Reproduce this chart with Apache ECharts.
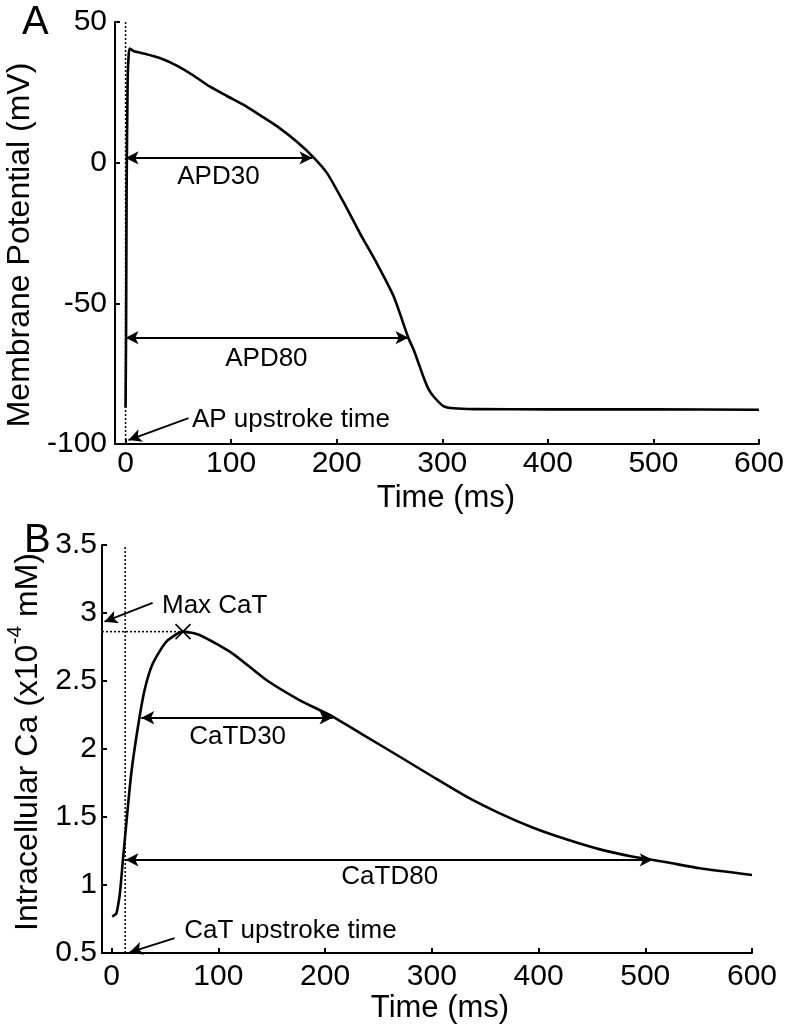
<!DOCTYPE html>
<html><head><meta charset="utf-8">
<script src="https://cdn.jsdelivr.net/npm/echarts@6/dist/echarts.min.js"></script>
<style>html,body{margin:0;padding:0;background:#fff;}#c{width:788px;height:1032px;}</style>
</head><body><div id="c"></div>
<script>
// ---- Panel A: action potential ----
const apTime    = [0, 0.5, 1, 2, 3, 4, 8, 16, 33, 49, 65, 80, 96, 112, 128, 144, 162, 178, 191, 207, 222, 238, 254, 268, 273, 282, 287, 292, 301, 311, 330, 400, 500, 600];
const apVoltage = [-87, -60, -10, 30, 38.5, 40.6, 39.6, 38.9, 37.1, 34.4, 30.8, 27, 23.7, 20.5, 16.7, 12.8, 7.5, 1.9, -3.8, -14.4, -25.1, -35.8, -47.6, -62.4, -66.6, -76, -80.5, -83.2, -86.5, -87.3, -87.6, -87.7, -87.7, -87.8];
const timeTicks = [0, 100, 200, 300, 400, 500, 600];
const apUpstroke = [[0, -100], [0, 50]];
const apd30Line = [[0, 1.7], [177, 1.7]];
const apd80Line = [[0, -62.2], [268, -62.2]];
const apUpArrow = [[59.6, -90.8], [2.8, -98.6]];
const apLabels = [[88, -5.1, 'APD30'], [133.4, -69.8, 'APD80'], [156.6, -91.5, 'AP upstroke time']];

// ---- Panel B: calcium transient ----
const caTime = [0.6, 4.4, 6.9, 8.1, 10.6, 13.8, 18.4, 24.7, 30.9, 38.7, 51.3, 66.9, 82.5, 113.7, 145, 176, 207.5, 238.8, 270, 301, 332.5, 363.7, 395, 426, 457.5, 488.7, 520, 551, 600];
const caConc = [0.767, 0.79, 0.89, 0.963, 1.184, 1.454, 1.82, 2.164, 2.434, 2.63, 2.79, 2.863, 2.838, 2.70, 2.507, 2.36, 2.237, 2.09, 1.943, 1.796, 1.65, 1.527, 1.421, 1.336, 1.262, 1.208, 1.167, 1.123, 1.074];
const caUpstroke = [[12.7, 0.5], [12.7, 3.5]];
const caMaxPoint = [[66.9, 2.863]];
const caMaxLine = [[-9, 2.863], [66.9, 2.863]];
const catd30Line = [[27.8, 2.23], [207, 2.23]];
const catd80Line = [[13, 1.185], [507, 1.185]];
const caMaxArrow = [[38.4, 3.074], [-6.6, 2.936]];
const caUpArrow = [[59, 0.61], [16.9, 0.505]];
const caLabels = [[96.6, 3.055, 'Max CaT'], [118.1, 2.092, 'CaTD30'], [260.6, 1.0625, 'CaTD80'], [167.5, 0.662, 'CaT upstroke time']];

const FONT = "'Liberation Sans', Arial, Helvetica, sans-serif";
const zip = (a, b) => a.map((v, i) => [v, b[i]]);

function xAxisCfg(gi, min, margin, gap, pad) {
  return {
    type: 'value', gridIndex: gi, min: min, max: 600,
    name: 'Time (ms)', nameLocation: 'middle', nameGap: gap,
    nameTextStyle: { fontSize: 31, fontFamily: FONT, color: '#000', padding: [0, 0, 0, pad] },
    axisLine: { onZero: false, lineStyle: { color: '#000', width: 2 } },
    axisTick: { inside: true, length: 5, lineStyle: { color: '#000', width: 2 }, customValues: timeTicks },
    axisLabel: { fontSize: 30, fontFamily: FONT, color: '#000', margin: margin, customValues: timeTicks },
    splitLine: { show: false }
  };
}
function arrowPair(seg, both) {
  return [
    { coord: seg[0], symbol: both ? 'arrow' : 'none' },
    { coord: seg[1], symbol: 'arrow' }
  ];
}
const markLineBase = {
  silent: true, animation: false,
  symbolSize: [10, 13],
  label: { show: false },
  lineStyle: { color: '#000', width: 1.8, type: 'solid', opacity: 1 },
  itemStyle: { color: '#000' },
  emphasis: { disabled: true }
};
function labelSeries(xi, yi, data) {
  return {
    type: 'scatter', xAxisIndex: xi, yAxisIndex: yi, data: data, symbolSize: 0, silent: true,
    itemStyle: { color: '#000', opacity: 1 },
    label: {
      show: true, position: 'inside', formatter: p => p.data[2], fontSize: 26, fontFamily: FONT,
      color: '#000', opacity: 1, textBorderWidth: 0, textBorderColor: 'transparent'
    }
  };
}

const chart = echarts.init(document.getElementById('c'), null, { renderer: 'canvas' });
chart.setOption({
  animation: false,
  backgroundColor: '#fff',
  grid: [
    { left: 115, right: 29, top: 22, bottom: 588, outerBoundsMode: 'none' },
    { left: 102, right: 36, top: 545, bottom: 79, outerBoundsMode: 'none' }
  ],
  graphic: [
    { type: 'text', left: 22, top: 3, style: { text: 'A', font: '40px ' + FONT, fill: '#000' } },
    { type: 'text', left: 24, top: 521, style: { text: 'B', font: '40px ' + FONT, fill: '#000' } }
  ],
  xAxis: [xAxisCfg(0, -10, 5, 39, 18), xAxisCfg(1, -9, 9, 40, 26)],
  yAxis: [
    {
      type: 'value', gridIndex: 0, min: -100, max: 50, interval: 50,
      name: 'Membrane Potential (mV)', nameLocation: 'middle', nameGap: 62,
      nameTextStyle: { fontSize: 32, fontFamily: FONT, color: '#000', padding: [0, 24, 0, 0] },
      axisLine: { onZero: false, lineStyle: { color: '#000', width: 2 } },
      axisTick: { inside: true, length: 5, lineStyle: { color: '#000', width: 2 } },
      axisLabel: { fontSize: 30, fontFamily: FONT, color: '#000', margin: 8 },
      splitLine: { show: false }
    },
    {
      type: 'value', gridIndex: 1, min: 0.5, max: 3.5, interval: 0.5,
      name: '{a|Intracellular Ca (x10}{s|-4}{a| mM)}', nameLocation: 'middle', nameGap: 50,
      nameTextStyle: {
        fontSize: 32, fontFamily: FONT, color: '#000', padding: [0, 0, 0, 14],
        rich: {
          a: { fontSize: 32, fontFamily: FONT, color: '#000', verticalAlign: 'bottom', lineHeight: 40 },
          s: { fontSize: 21, fontFamily: FONT, color: '#000', verticalAlign: 'top', lineHeight: 40 }
        }
      },
      axisLine: { onZero: false, lineStyle: { color: '#000', width: 2 } },
      axisTick: { inside: true, length: 5, lineStyle: { color: '#000', width: 2 } },
      axisLabel: { fontSize: 30, fontFamily: FONT, color: '#000', margin: 5 },
      splitLine: { show: false }
    }
  ],
  series: [
    {
      type: 'line', xAxisIndex: 0, yAxisIndex: 0, data: apUpstroke, symbol: 'none', silent: true,
      lineStyle: { color: '#000', width: 1.5, type: [2, 2] }
    },
    {
      type: 'line', xAxisIndex: 0, yAxisIndex: 0, data: zip(apTime, apVoltage), symbol: 'none',
      smooth: 0.2, silent: true,
      lineStyle: { color: '#000', width: 2.6, join: 'round' },
      markLine: Object.assign({}, markLineBase, {
        data: [arrowPair(apd30Line, true), arrowPair(apd80Line, true), arrowPair(apUpArrow, false)]
      })
    },
    labelSeries(0, 0, apLabels),
    {
      type: 'line', xAxisIndex: 1, yAxisIndex: 1, data: caUpstroke, symbol: 'none', silent: true,
      lineStyle: { color: '#000', width: 1.5, type: [2, 2] }
    },
    {
      type: 'line', xAxisIndex: 1, yAxisIndex: 1, data: caMaxLine, symbol: 'none', silent: true,
      lineStyle: { color: '#000', width: 1.5, type: [2, 2] }
    },
    {
      type: 'line', xAxisIndex: 1, yAxisIndex: 1, data: zip(caTime, caConc), symbol: 'none',
      smooth: 0.2, silent: true,
      lineStyle: { color: '#000', width: 2.6, join: 'round' },
      markLine: Object.assign({}, markLineBase, {
        data: [arrowPair(catd30Line, true), arrowPair(catd80Line, true), arrowPair(caMaxArrow, false), arrowPair(caUpArrow, false)]
      })
    },
    {
      type: 'scatter', xAxisIndex: 1, yAxisIndex: 1, data: caMaxPoint, silent: true,
      symbol: 'path://M0 0L10 10M10 0L0 10', symbolSize: 15,
      itemStyle: { color: 'rgba(0,0,0,0)', borderColor: '#000', borderWidth: 1.6, opacity: 1 }
    },
    labelSeries(1, 1, caLabels)
  ]
});
</script></body></html>
